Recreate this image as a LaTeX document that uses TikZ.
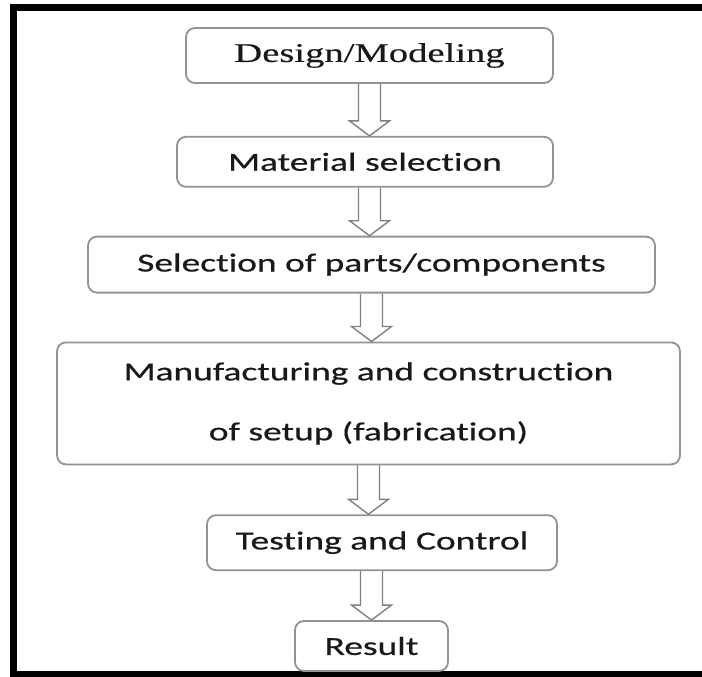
\documentclass[tikz,border=0pt]{standalone}
\usepackage{fontspec}
\setmainfont{Carlito}[FakeStretch=1.44, FakeBold=0.5, Ligatures=NoCommon]
\newfontfamily\timesstretch{Liberation Serif}[FakeStretch=1.43, FakeBold=0.3]
\usetikzlibrary{positioning}
\usetikzlibrary{calc}

\begin{document}
\begin{tikzpicture}[
x=1pt, y=1pt,
stagenode/.style={rectangle, rounded corners=9pt, draw=gray!85, fill=white, line width=1.8pt, text=black!90, font=\fontsize{26}{60}\selectfont, align=center, inner sep=0pt},
blockarrow/.style={draw=gray, line width=1.4pt, to path={let \p1=(\tikztostart), \p2=(\tikztotarget) in (\x1-11pt,\y1) -- (\x1-11pt,\y2+15pt) -- (\x1-20pt,\y2+15pt) -- (\x1,\y2) -- (\x1+20pt,\y2+15pt) -- (\x1+11pt,\y2+15pt) -- (\x1+11pt,\y1)}},
frameline/.style={line width=7pt, draw=black},
]
\useasboundingbox (0,0) rectangle (702,-677);
\draw[frameline] (702,-8) -- (13.5,-8) -- (13.5,-674) -- (702,-674);

%Nodes
\node[stagenode, minimum width=367pt, minimum height=55pt, font=\timesstretch\fontsize{27}{32}\selectfont] (design) at (369.5,-55.5) {Design/Modeling};
\node[stagenode, minimum width=376pt, minimum height=50pt] (material)  [below=52pt of design, xshift=-4.5pt]   {Material selection};
\node[stagenode, minimum width=567pt, minimum height=56pt] (selection) [below=48pt of material, xshift=6.5pt]  {Selection of parts/components};
\node[stagenode, minimum width=623pt, minimum height=122pt] (manuf)    [below=48pt of selection, xshift=-3pt]  {Manufacturing and construction\\of setup (fabrication)};
\node[stagenode, minimum width=350pt, minimum height=55pt] (testing)   [below=49pt of manuf, xshift=13.5pt]    {Testing and Control};
\node[stagenode, minimum width=153pt, minimum height=50pt] (result)    [below=49pt of testing, xshift=-10.5pt] {Result};

%Lines
\draw[blockarrow] (design.south) to (material.north);
\draw[blockarrow] (material.south -| design.south) to (selection.north);
\draw[blockarrow] (selection.south) to (manuf.north);
\draw[blockarrow] (manuf.south) to (testing.north);
\draw[blockarrow] (testing.south -| result.north) to (result.north);
\end{tikzpicture}
\end{document}
